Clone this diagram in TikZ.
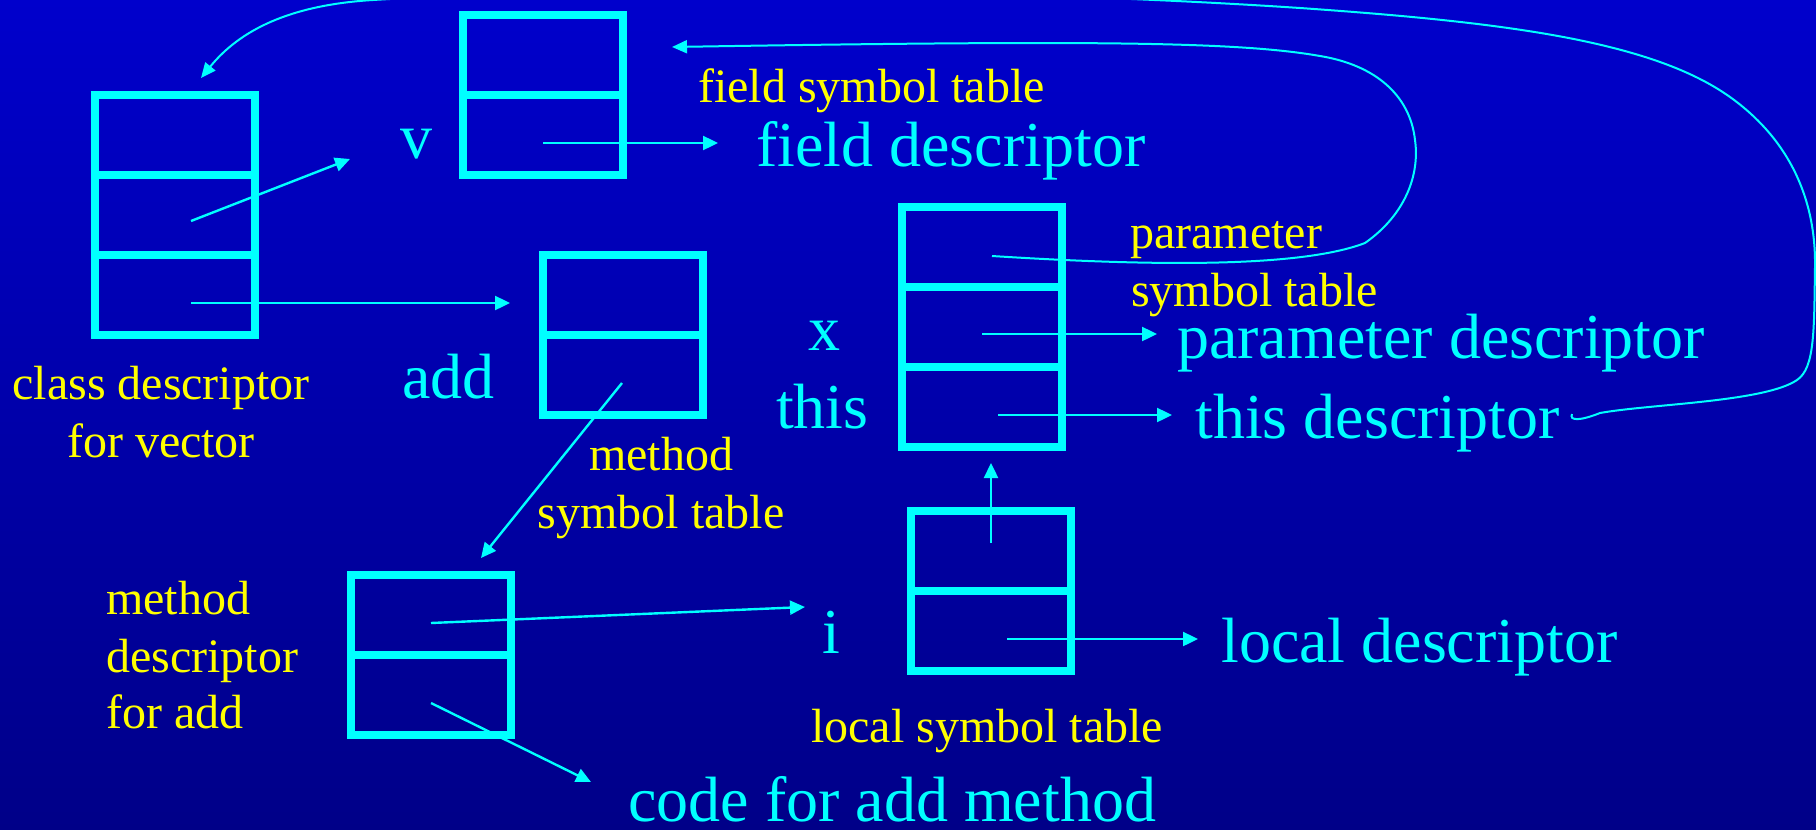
\documentclass[tikz,border=0pt]{standalone}
\usepackage{fontspec}
\setmainfont{Liberation Serif}
\usetikzlibrary{arrows.meta}
\definecolor{cy}{RGB}{0,255,255}
\definecolor{yl}{RGB}{255,255,0}
\definecolor{bgtop}{RGB}{0,0,204}
\definecolor{bgbot}{RGB}{0,0,136}
\begin{document}
\begin{tikzpicture}[x=1pt,y=-1pt,
 cell/.style={draw=cy, line width=8pt, minimum width=160pt, minimum height=80pt, inner sep=0pt, outer sep=0pt},
 ptr/.style={draw=cy, line width=2.4pt, -{Triangle[length=15pt,width=14pt]}},
 curv/.style={draw=cy, line width=2pt, -{Triangle[length=15pt,width=13pt]}},
 lab/.style={text=yl, font=\fontsize{48}{50}\selectfont, inner sep=0pt, anchor=base west},
 big/.style={text=cy, font=\fontsize{64}{66}\selectfont, inner sep=0pt, anchor=base west}]
\useasboundingbox (0,0) rectangle (1816,830);
\clip (0,0) rectangle (1816,830);
\shade[top color=bgtop, bottom color=bgbot] (0,0) rectangle (1816,830);

% class descriptor
\node[cell] (cA) at (175,135) {};
\node[cell] (cB) at (175,215) {};
\node[cell] (cC) at (175,295) {};
% field symbol table
\node[cell] (fA) at (543,55) {};
\node[cell] (fB) at (543,135) {};
% method symbol table
\node[cell] (mA) at (623,295) {};
\node[cell] (mB) at (623,375) {};
% parameter symbol table
\node[cell] (pA) at (982,247) {};
\node[cell] (pB) at (982,327) {};
\node[cell] (pC) at (982,407) {};
% local symbol table
\node[cell] (lA) at (991,551) {};
\node[cell] (lB) at (991,631) {};
% method descriptor
\node[cell] (dA) at (431,615) {};
\node[cell] (dB) at (431,695) {};

% labels
\node[lab, anchor=base] (cdA) at (161,399) {class descriptor};
\node[lab, anchor=base] (cdB) at (161,457) {for vector};
\node[big] (lv) at (400,158) {v};
\node[lab] (fst) at (698,102) {field symbol table};
\node[big] (fd) at (756,166) {field descriptor};
\node[lab] (pst1) at (1130,248) {parameter};
\node[lab] (pst2) at (1131,306) {symbol table};
\node[big] (pd) at (1177,358) {parameter descriptor};
\node[big] (td) at (1195,438) {this descriptor};
\node[big] (lx) at (808,350) {x};
\node[big] (lthis) at (776,428) {this};
\node[big] (ladd) at (402,398) {add};
\node[lab, anchor=base] (mst1) at (661,470) {method};
\node[lab, anchor=base] (mst2) at (661,528) {symbol table};
\node[lab] (md1) at (106,614) {method};
\node[lab] (md2) at (106,672) {descriptor};
\node[lab] (md3) at (106,728) {for add};
\node[big] (li) at (822,653) {i};
\node[lab] (lst) at (811,742) {local symbol table};
\node[big] (ld) at (1221,662) {local descriptor};
\node[big] (code) at (628,821) {code for add method};

% pointer coordinates
\coordinate (s1) at (191,221); \coordinate (e1) at (350,159);
\coordinate (s2) at (191,303); \coordinate (e2) at (510,303);
\coordinate (s3) at (543,143); \coordinate (e3) at (718,143);
\coordinate (s5) at (982,334); \coordinate (e5) at (1157,334);
\coordinate (s6) at (998,415); \coordinate (e6) at (1172,415);
\coordinate (s8) at (622,383); \coordinate (e8) at (481,558);
\coordinate (s9) at (431,623); \coordinate (e9) at (805,607);
\coordinate (s10) at (431,703); \coordinate (e10) at (591,782);
\coordinate (s11) at (991,543); \coordinate (e11) at (991,463);
\coordinate (s12) at (1007,639); \coordinate (e12) at (1198,639);
\coordinate (s4) at (992,256); \coordinate (e4) at (672,47);
\coordinate (s7) at (1572,414); \coordinate (e7) at (201,78);

\draw[ptr] (s1) -- (e1);
\draw[ptr] (s2) -- (e2);
\draw[ptr] (s3) -- (e3);
\draw[ptr] (s5) -- (e5);
\draw[ptr] (s6) -- (e6);
\draw[ptr] (s8) -- (e8);
\draw[ptr] (s9) -- (e9);
\draw[ptr] (s10) -- (e10);
\draw[ptr] (s11) -- (e11);
\draw[ptr] (s12) -- (e12);

\draw[curv] (s4) .. controls (1150,266) and (1300,268) .. (1365,243)
  .. controls (1405,215) and (1420,175) .. (1415,140)
  .. controls (1410,95) and (1375,65) .. (1320,56)
  .. controls (1240,42) and (1100,40) .. (e4);

\draw[curv] (s7) .. controls (1569,421) and (1580,421) .. (1600,413)
  .. controls (1650,404) and (1765,402) .. (1797,380)
  .. controls (1815,368) and (1814,330) .. (1815,267)
  .. controls (1816,200) and (1790,140) .. (1730,97)
  .. controls (1650,40) and (1500,22) .. (1300,8)
  .. controls (1000,-12) and (600,-14) .. (373,0)
  .. controls (290,5) and (240,30) .. (e7);
\end{tikzpicture}
\end{document}
